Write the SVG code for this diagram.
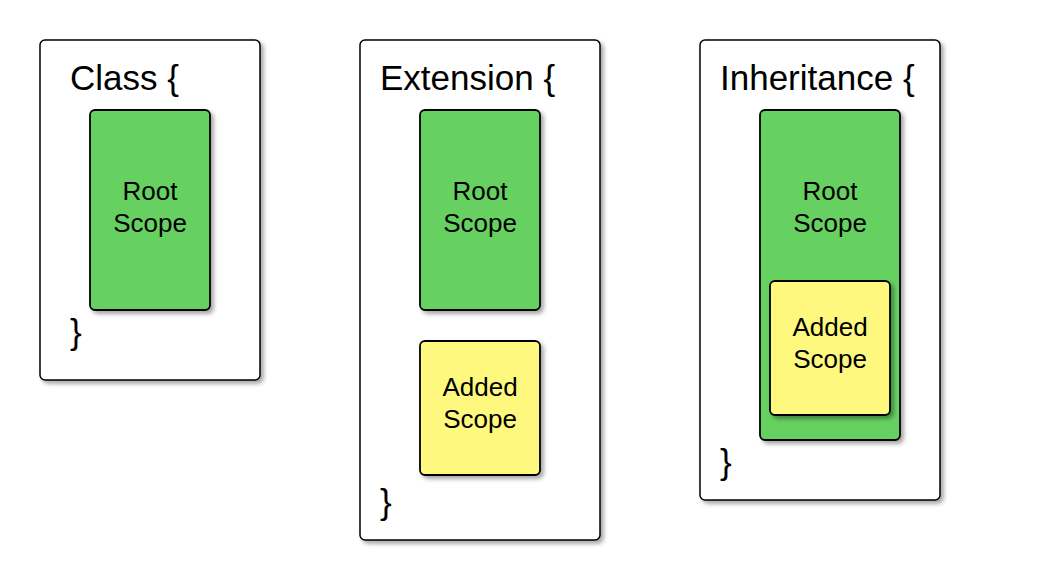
<svg xmlns="http://www.w3.org/2000/svg" width="1040" height="581" viewBox="0 0 1040 581">
<defs>
<filter id="sh" x="-10%" y="-10%" width="130%" height="130%">
<feDropShadow dx="3" dy="3" stdDeviation="2" flood-color="#000" flood-opacity="0.35"/>
</filter>
<style>
.box{fill:#fff;stroke:#000;stroke-width:1.5;filter:url(#sh)}
.root{fill:#66d160;stroke:#000;stroke-width:1.8;filter:url(#sh)}
.added{fill:#fff87f;stroke:#000;stroke-width:1.8;filter:url(#sh)}
.t{font-family:"Liberation Sans",Arial,sans-serif;font-size:35px;fill:#000}
.s{font-family:"Liberation Sans",Arial,sans-serif;font-size:26px;fill:#000;text-anchor:middle}
</style>
</defs>
<g id="class">
<rect class="box" x="40" y="40" width="220" height="340" rx="5"/>
<text class="t" x="70" y="90">Class {</text>
<text class="t" x="70" y="344">}</text>
</g>
<g id="class-root">
<rect class="root" x="90" y="110" width="120" height="200" rx="5"/>
<text class="s" x="150" y="200">Root</text>
<text class="s" x="150" y="232">Scope</text>
</g>
<g id="extension">
<rect class="box" x="360" y="40" width="240" height="500" rx="5"/>
<text class="t" x="380" y="90">Extension {</text>
<text class="t" x="380" y="514">}</text>
</g>
<g id="extension-root">
<rect class="root" x="420" y="110" width="120" height="200" rx="5"/>
<text class="s" x="480" y="200">Root</text>
<text class="s" x="480" y="232">Scope</text>
</g>
<g id="extension-added">
<rect class="added" x="420" y="341" width="120" height="134" rx="5"/>
<text class="s" x="480" y="396">Added</text>
<text class="s" x="480" y="428">Scope</text>
</g>
<g id="inheritance">
<rect class="box" x="700" y="40" width="240" height="460" rx="5"/>
<text class="t" x="720" y="90">Inheritance {</text>
<text class="t" x="720" y="474">}</text>
</g>
<g id="inheritance-root">
<rect class="root" x="760" y="110" width="140" height="330" rx="5"/>
<text class="s" x="830" y="200">Root</text>
<text class="s" x="830" y="232">Scope</text>
</g>
<g id="inheritance-added">
<rect class="added" x="770" y="281" width="120" height="134" rx="5"/>
<text class="s" x="830" y="336">Added</text>
<text class="s" x="830" y="368">Scope</text>
</g>
<g id="connectors"></g>
</svg>
